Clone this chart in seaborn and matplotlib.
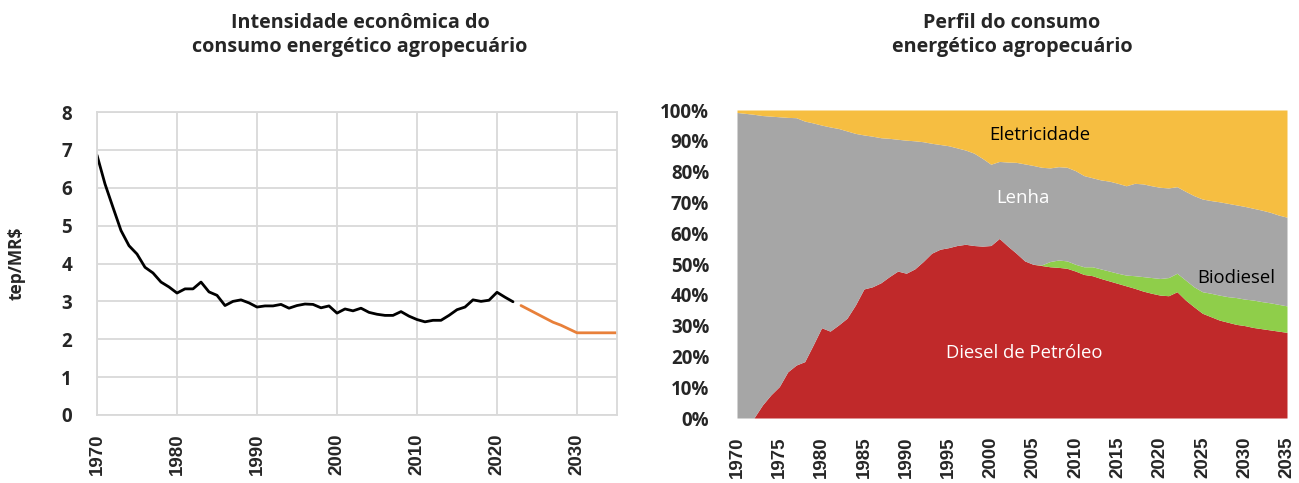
import matplotlib
matplotlib.use("Agg")
import matplotlib.pyplot as plt
import seaborn as sns
import numpy as np
import pandas as pd

# ---------------- data ----------------
hist_years = list(range(1970, 2023))
hist_intensity = [6.86, 6.10, 5.48, 4.87, 4.47, 4.25, 3.90, 3.75, 3.51, 3.38,
                  3.22, 3.33, 3.33, 3.51, 3.25, 3.16, 2.89, 3.00, 3.04, 2.96,
                  2.85, 2.88, 2.88, 2.92, 2.82, 2.89, 2.93, 2.92, 2.83, 2.88,
                  2.69, 2.80, 2.75, 2.82, 2.71, 2.66, 2.63, 2.63, 2.73, 2.61,
                  2.52, 2.46, 2.50, 2.50, 2.63, 2.78, 2.85, 3.04, 3.00, 3.03,
                  3.24, 3.11, 2.99]
proj_years = list(range(2023, 2036))
proj_intensity = [2.89, 2.78, 2.67, 2.56, 2.45, 2.37, 2.27, 2.17, 2.17, 2.17, 2.17, 2.17, 2.17]

share_years = list(range(1970, 2036))
diesel = [0, 0, 0, 4.2, 7.5, 10.2, 15.0, 17.2, 18.3, 23.7,
          29.3, 28.2, 30.2, 32.4, 36.7, 41.9, 42.6, 43.9, 45.9, 47.7,
          47.0, 48.4, 50.8, 53.5, 54.8, 55.3, 56.0, 56.4, 56.0, 55.8,
          56.0, 58.3, 55.8, 53.5, 51.0, 49.9, 49.5, 49.1, 48.9, 48.6,
          47.7, 46.6, 46.2, 45.3, 44.5, 43.7, 42.9, 42.1, 41.2, 40.5,
          39.9, 39.7, 41.0, 38.3, 36.1, 34.0, 32.9, 31.8, 31.1, 30.4,
          30.0, 29.4, 29.0, 28.6, 28.2, 27.8]
biodiesel = [0] * 36 + [0.2, 1.7, 2.4, 2.4,
             2.2, 2.5, 2.9, 3.1, 3.2, 3.3, 3.5, 4.1, 4.7, 5.1,
             5.4, 5.9, 6.0, 6.5, 6.5, 7.0, 7.6, 8.1, 8.3, 8.7,
             8.6, 8.9, 8.8, 8.8, 8.7, 8.6]
lenha = [99.2, 98.9, 98.6, 94.0, 90.5, 87.6, 82.6, 80.3, 78.1, 72.1,
         65.8, 66.3, 63.8, 60.8, 55.7, 50.0, 48.9, 47.1, 44.9, 42.8,
         43.2, 41.6, 38.9, 35.7, 34.0, 33.1, 31.7, 30.6, 30.0, 28.5,
         26.4, 25.0, 27.3, 29.5, 31.5, 32.1, 31.7, 30.4, 30.3, 30.4,
         30.4, 29.6, 28.9, 28.9, 29.2, 29.2, 29.0, 30.0, 30.1, 29.8,
         29.6, 29.1, 28.1, 28.8, 29.6, 30.1, 30.1, 30.3, 30.3, 30.1,
         30.1, 29.8, 29.7, 29.4, 29.0, 28.8]
eletricidade = [0.8, 1.1, 1.4, 1.8, 2.0, 2.2, 2.4, 2.5, 3.6, 4.2,
                4.9, 5.5, 6.0, 6.8, 7.6, 8.1, 8.5, 9.0, 9.2, 9.5,
                9.8, 10.0, 10.3, 10.8, 11.2, 11.6, 12.3, 13.0, 14.0, 15.7,
                17.6, 16.7, 16.9, 17.0, 17.5, 18.0, 18.6, 18.8, 18.4, 18.6,
                19.7, 21.3, 22.0, 22.7, 23.1, 23.8, 24.6, 23.8, 24.0, 24.6,
                25.1, 25.3, 24.9, 26.4, 27.8, 28.9, 29.4, 29.8, 30.3, 30.8,
                31.3, 31.9, 32.5, 33.2, 34.1, 34.8]

left_xticks = [1970, 1980, 1990, 2000, 2010, 2020, 2030]
right_xticks = list(range(1970, 2036, 5))

# ---------------- style ----------------
sns.set_theme(style="white")
plt.rcParams['font.family'] = ['Open Sans', 'DejaVu Sans']

fig = plt.figure(figsize=(12.99, 4.83), dpi=100)
W, H = 1299, 483

def axes_px(l, t, r, b):
    return fig.add_axes([l / W, 1 - b / H, (r - l) / W, (b - t) / H])

# ---------------- left chart ----------------
ax1 = axes_px(97, 112, 617, 415)
df_hist = pd.DataFrame({"ano": hist_years, "valor": hist_intensity})
df_proj = pd.DataFrame({"ano": proj_years, "valor": proj_intensity})
sns.lineplot(data=df_hist, x="ano", y="valor", ax=ax1, color="black", lw=2.0)
sns.lineplot(data=df_proj, x="ano", y="valor", ax=ax1, color="#E8803A", lw=2.0)
ax1.set_xlim(1970, 2035)
ax1.set_ylim(0, 8)
ax1.set_xticks(left_xticks)
ax1.set_yticks(range(0, 9))
ax1.grid(True, color="#d9d9d9", lw=1.3)
for s in ax1.spines.values():
    s.set_color("#d9d9d9")
    s.set_linewidth(1.3)
ax1.set_xlabel("")
ax1.set_ylabel("tep/MR$", fontsize=12.5, fontweight="bold", labelpad=26)
ax1.tick_params(axis="y", labelsize=13.5, pad=18, length=0)
for lab in ax1.get_yticklabels():
    lab.set_fontweight("bold")
ax1.tick_params(axis="x", labelsize=13.5, pad=13, length=0, rotation=90)
for lab in ax1.get_xticklabels():
    lab.set_fontfamily("Liberation Sans")
    lab.set_fontweight("bold")
fig.text(360 / W, 1 - 35 / H, "Intensidade econômica do\nconsumo energético agropecuário",
         ha="center", va="center", fontsize=14.2, fontweight="bold", linespacing=1.28)

# ---------------- right chart ----------------
ax2 = axes_px(737, 110, 1287, 418)
colors = ["#C0292A", "#8FCE4A", "#A6A6A6", "#F6BE41"]
ax2.stackplot(share_years, diesel, biodiesel, lenha, eletricidade,
              colors=colors, linewidth=0)
ax2.set_xlim(1970, 2035)
ax2.set_ylim(0, 100)
ax2.set_xticks(right_xticks)
ax2.set_yticks(range(0, 101, 10))
ax2.set_yticklabels([f"{v}%" for v in range(0, 101, 10)])
for s in ax2.spines.values():
    s.set_visible(False)
ax2.tick_params(axis="y", labelsize=13.5, pad=20, length=0)
for lab in ax2.get_yticklabels():
    lab.set_fontweight("bold")
ax2.tick_params(axis="x", labelsize=13.5, pad=13, length=0, rotation=90)
for lab in ax2.get_xticklabels():
    lab.set_fontfamily("Liberation Sans")
    lab.set_fontweight("bold")

ax2.text(2005.8, 91.9, "Eletricidade", ha="center", va="center", fontsize=13.3, color="black")
ax2.text(2003.8, 71.4, "Lenha", ha="center", va="center", fontsize=13.3, color="white")
ax2.text(2029.0, 45.5, "Biodiesel", ha="center", va="center", fontsize=13.3, color="black")
ax2.text(2003.9, 21.1, "Diesel de Petróleo", ha="center", va="center", fontsize=13.3, color="white")

fig.text(1012 / W, 1 - 35 / H, "Perfil do consumo\nenergético agropecuário",
         ha="center", va="center", fontsize=14.2, fontweight="bold", linespacing=1.28)

fig.savefig("out.png", dpi=100)
